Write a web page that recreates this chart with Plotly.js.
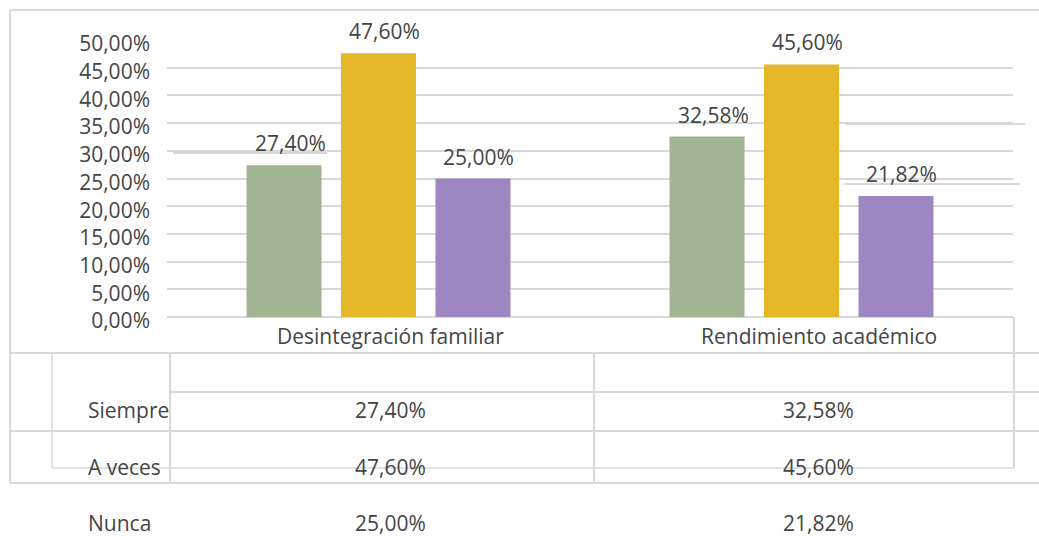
<!DOCTYPE html>
<html>
<head>
<meta charset="utf-8">
<script src="https://cdn.plot.ly/plotly-3.0.1.min.js"></script>
<style>html,body{margin:0;padding:0;background:#fff;}#chart{width:1039px;height:537px;}</style>
</head>
<body>
<div id="chart"></div>
<script>
// ---- data ----
const categories = ['Desintegración familiar', 'Rendimiento académico'];
const seriesNames = ['Siempre', 'A veces', 'Nunca'];
const siempre = [0.2740, 0.3258];
const aVeces = [0.4760, 0.4560];
const nunca = [0.2500, 0.2182];
const yTicks = [0, 0.05, 0.10, 0.15, 0.20, 0.25, 0.30, 0.35, 0.40, 0.45, 0.50];

// ---- styles ----
const colors = ['#A1B493', '#E5B829', '#9E86C0'];
const seriesValues = [siempre, aVeces, nunca];
const W = 1039, H = 537;
const M = {l: 167, r: 26, t: 40, b: 220};
const PW = W - M.l - M.r, PH = H - M.t - M.b;
const FONT = 'Open Sans, sans-serif';
const TXT = '#454545';
const LINE = '#D9D9D9';
const BARGAP = 0.33, GROUPGAP = 0.206;
const catShift = [12, 17];

function fmt(v) { return (v * 100).toFixed(2).replace('.', ',') + '%'; }
function px(x) { return (x - M.l) / PW; }
function py(y) { return (M.t + PH - y) / PH; }

const traces = seriesNames.map((name, s) => ({
  type: 'bar', name: name, x: categories, y: seriesValues[s],
  marker: {color: colors[s]}, hoverinfo: 'skip'
}));

const annotations = [];
const slot = (1 - BARGAP) / seriesNames.length;
seriesValues.forEach((vals, s) => {
  vals.forEach((v, i) => {
    annotations.push({
      x: i + (s - 1) * slot, y: v, xref: 'x', yref: 'y',
      text: fmt(v), showarrow: false, yanchor: 'middle', yshift: 22, xshift: 6,
      font: {family: FONT, size: 21, color: TXT}
    });
  });
});
// category labels
categories.forEach((c, i) => {
  annotations.push({x: i, y: py(336), xref: 'x', yref: 'paper', text: c, showarrow: false,
    yanchor: 'middle', xshift: catShift[i], font: {family: FONT, size: 21, color: TXT}});
});
// data table
const rowY = [410, 467, 523];
seriesNames.forEach((name, s) => {
  annotations.push({x: px(86), y: py(rowY[s]), xref: 'paper', yref: 'paper', text: name,
    showarrow: false, xanchor: 'left', yanchor: 'middle', font: {family: FONT, size: 21, color: TXT}});
  seriesValues[s].forEach((v, i) => {
    annotations.push({x: i, y: py(rowY[s]), xref: 'x', yref: 'paper', text: fmt(v),
      showarrow: false, yanchor: 'middle', xshift: catShift[i], font: {family: FONT, size: 21, color: TXT}});
  });
});

const shapes = [];
function hline(y, x0, x1, w, col, layer) {
  shapes.push({type: 'line', xref: 'paper', yref: 'paper', x0: px(x0), x1: px(x1), y0: py(y), y1: py(y),
    line: {color: col || LINE, width: w || 2}, layer: layer || 'above'});
}
function vline(x, y0, y1, w) {
  shapes.push({type: 'line', xref: 'paper', yref: 'paper', x0: px(x), x1: px(x), y0: py(y0), y1: py(y1),
    line: {color: LINE, width: w || 2}, layer: 'above'});
}
function mask(x0, x1, y0, y1) {
  shapes.push({type: 'rect', xref: 'paper', yref: 'paper', x0: px(x0), x1: px(x1), y0: py(y0), y1: py(y1),
    line: {width: 0}, fillcolor: '#ffffff', layer: 'between'});
}
// gridline glitches around labels
mask(165, 341, 149.2, 152.4);
hline(153, 173, 327, 2, LINE, 'between');
mask(841, 1016, 121.3, 124.9);
hline(124, 845, 1025, 2, LINE, 'between');
mask(841, 1016, 176.7, 180.3);
hline(184, 844, 1020, 2, LINE, 'between');
// outer border
hline(10, 10, 1039);
vline(10, 10, 483);
// table grid
vline(1014, 317, 468);
hline(353, 10, 1039);
hline(392, 170, 1039);
hline(431, 10, 1039);
hline(468, 52, 1014, 1.5);
hline(483, 10, 1039);
vline(52, 353, 468, 1.5);
vline(170, 353, 483);
vline(594, 353, 483);

const layout = {
  width: W, height: H, margin: M,
  paper_bgcolor: '#ffffff', plot_bgcolor: '#ffffff',
  showlegend: false, barmode: 'group', bargap: BARGAP, bargroupgap: GROUPGAP,
  separators: ', ',
  font: {family: FONT, size: 21, color: TXT},
  xaxis: {type: 'category', showticklabels: false, showgrid: false, zeroline: false, showline: false, fixedrange: true},
  yaxis: {range: [0, 0.5], tickvals: yTicks, tickformat: '.2%', showgrid: true, gridcolor: LINE, gridwidth: 2,
    zeroline: true, zerolinecolor: LINE, zerolinewidth: 2, showline: false, ticks: '', ticklabelstandoff: 16,
    ticklabelshift: 4, tickfont: {family: FONT, size: 21, color: TXT}, fixedrange: true},
  annotations: annotations, shapes: shapes
};

Plotly.newPlot('chart', traces, layout, {displayModeBar: false, staticPlot: true});
</script>
</body>
</html>
